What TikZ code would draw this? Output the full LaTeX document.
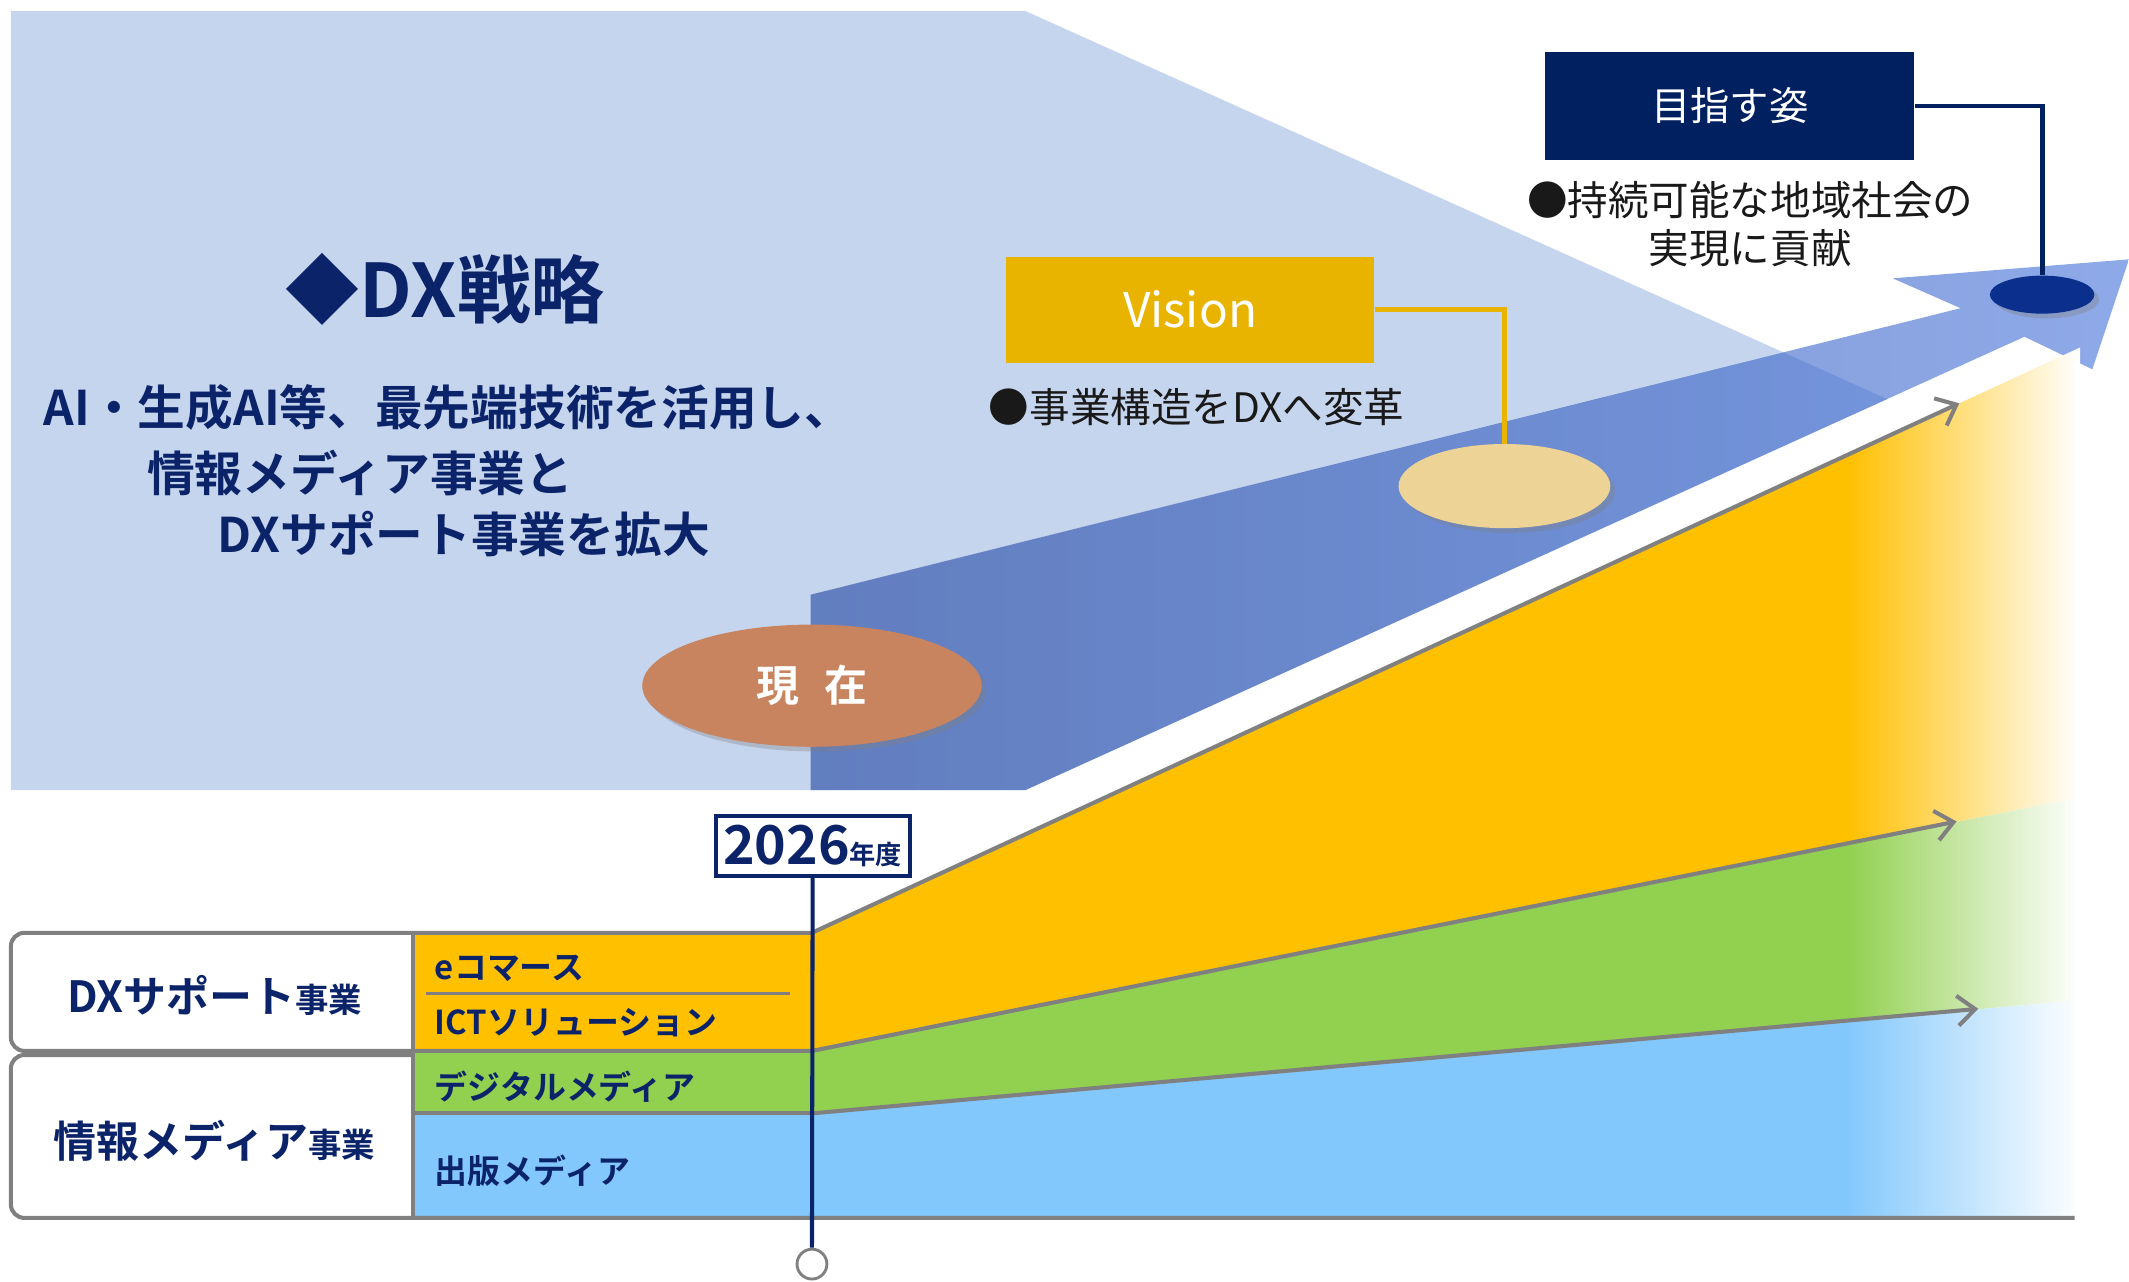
\documentclass[tikz,border=0pt]{standalone}
\usepackage{fontspec}
\setmainfont{Noto Sans CJK JP}[BoldFont={Noto Sans CJK JP Bold}]
\usetikzlibrary{arrows.meta}
\usetikzlibrary{shapes.geometric}
\usetikzlibrary{shadows}
\usetikzlibrary{fadings}

\definecolor{navy}{HTML}{0B2469}
\definecolor{boxnavy}{HTML}{002060}
\definecolor{paleblue}{HTML}{C6D5EE}
\definecolor{gold}{HTML}{E8B400}
\definecolor{chartyellow}{HTML}{FFC000}
\definecolor{chartgreen}{HTML}{92D050}
\definecolor{chartblue}{HTML}{83C8FC}
\definecolor{linegray}{HTML}{808080}
\definecolor{nowbrown}{HTML}{C8845E}
\definecolor{visionsand}{HTML}{EDD396}
\definecolor{goalblue}{HTML}{0B2F8C}
\definecolor{bandleft}{HTML}{1F44A0}
\definecolor{bandright}{HTML}{4370D9}

\tikzfading[name=towhite, left color=transparent!100, right color=transparent!0]

\begin{document}
\begin{tikzpicture}[x=0.2mm,y=-0.2mm,
  lead/.style={font=\bfseries\fontsize{20}{24}\selectfont,text=navy,anchor=west,inner sep=0pt},
  cell/.style={font=\bfseries\fontsize{13.8}{16}\selectfont,text=navy,anchor=west,inner sep=0pt},
  rowlabel/.style={font=\bfseries\fontsize{18}{20}\selectfont,text=navy,inner sep=0pt},
  note/.style={font=\fontsize{17}{20}\selectfont,text=black!90,inner sep=0pt},
  spot/.style={ellipse,inner sep=0pt,drop shadow={shadow xshift=0.7mm,shadow yshift=-0.7mm,opacity=0.35}},
  grayline/.style={linegray,line width=1.7pt},
  growth/.style={grayline,-{Straight Barb[length=2.6mm,width=4.4mm]}}]

\useasboundingbox (0,0) rectangle (1568,944);

% strategy panel and arrow
\fill[paleblue] (8,8) -- (755,8) -- (1390,294) -- (755,582) -- (8,582) -- cycle;
\shade[left color=bandleft,right color=bandright,fill opacity=0.6]
  (597,438) -- (1444,227) -- (1394,205) -- (1568,191) -- (1541,272)
  -- (1491,248) -- (755,582) -- (597,582) -- cycle;

\node[spot,fill=nowbrown,minimum width=50mm,minimum height=18mm,
  font=\bfseries\fontsize{18}{20}\selectfont,text=white] (now) at (598,505) {現\hspace{0.6em}在};
\node[spot,fill=visionsand,minimum width=31.2mm,minimum height=12.4mm] (visionspot) at (1108,358) {};
\node[spot,fill=goalblue,minimum width=15.4mm,minimum height=5.6mm] (goalspot) at (1504,217) {};

\node[fill=gold,minimum width=54.2mm,minimum height=15.6mm,text=white,
  font=\fontsize{20}{24}\selectfont] (vision) at (876.5,228) {Vision};
\node[fill=boxnavy,minimum width=54.4mm,minimum height=16mm,text=white,
  font=\fontsize{16.5}{20}\selectfont] (goal) at (1274,78) {目指す姿};
\draw[gold,line width=2pt] (vision.east) -| (visionspot.north);
\draw[boxnavy,line width=2pt] (goal.east) -| (goalspot.north);

\node[note,anchor=west] (visionnote) at (728,300) {●事業構造をDXへ変革};
\node[note,align=center,font=\fontsize{17}{20.2}\selectfont] (goalnote) at (1289,165) {●持続可能な地域社会の\\実現に貢献};

\node[font=\bfseries\fontsize{31}{34}\selectfont,text=navy,inner sep=0pt] (title) at (328,213) {◆DX戦略};
\node[lead] (lineA) at (32,300) {AI・生成AI等、最先端技術を活用し、};
\node[lead] (lineB) at (108,348) {情報メディア事業と};
\node[lead] (lineC) at (160,393) {DXサポート事業を拡大};

% business chart
\fill[chartyellow] (304,687) -- (598,687) -- (1528,258) -- (1528,588) -- (598,774) -- (304,774) -- cycle;
\fill[chartgreen] (304,774) -- (598,774) -- (1528,588) -- (1528,737) -- (598,820) -- (304,820) -- cycle;
\fill[chartblue] (304,820) -- (598,820) -- (1528,737) -- (1528,897) -- (304,897) -- cycle;
\fill[white,path fading=towhite] (1360,336) -- (1532,256) -- (1532,900) -- (1360,900) -- cycle;

\draw[grayline,rounded corners=2mm] (598,687) -- (8,687) -- (8,774) -- (598,774);
\draw[grayline,rounded corners=2mm] (304,777) -- (8,777) -- (8,897) -- (1528,897);
\draw[grayline] (304,820) -- (598,820);
\draw[grayline] (304,687) -- (304,897);
\draw[linegray,line width=1.2pt] (314,732) -- (582,732);
\draw[growth] (598,687) -- (1443,297);
\draw[growth] (598,774) -- (1441,605);
\draw[growth] (598,820) -- (1457,743);

\node[rowlabel] (dxrow) at (158,733) {DXサポート{\fontsize{14}{16}\selectfont 事業}};
\node[rowlabel] (mediarow) at (158,840) {情報メディア{\fontsize{14}{16}\selectfont 事業}};
\node[cell] (ecom) at (320,713) {eコマース};
\node[cell] (ict) at (320,753) {ICTソリューション};
\node[cell] (digital) at (320,800) {デジタルメディア};
\node[cell] (print) at (320,862) {出版メディア};

\node[draw=navy,line width=1.7pt,fill=white,minimum width=28.6mm,minimum height=8.8mm,
  inner sep=0pt,text=navy,font=\bfseries] (year) at (598.5,623)
  {{\fontsize{22.5}{24}\selectfont 2026}{\fontsize{11}{12}\selectfont 年度}};
\node[circle,draw=linegray,line width=1.2pt,fill=white,minimum size=4.4mm,inner sep=0pt] (origin) at (598,931) {};
\draw[navy,line width=1.7pt] (year.south) -- (origin.north);

\end{tikzpicture}
\end{document}
